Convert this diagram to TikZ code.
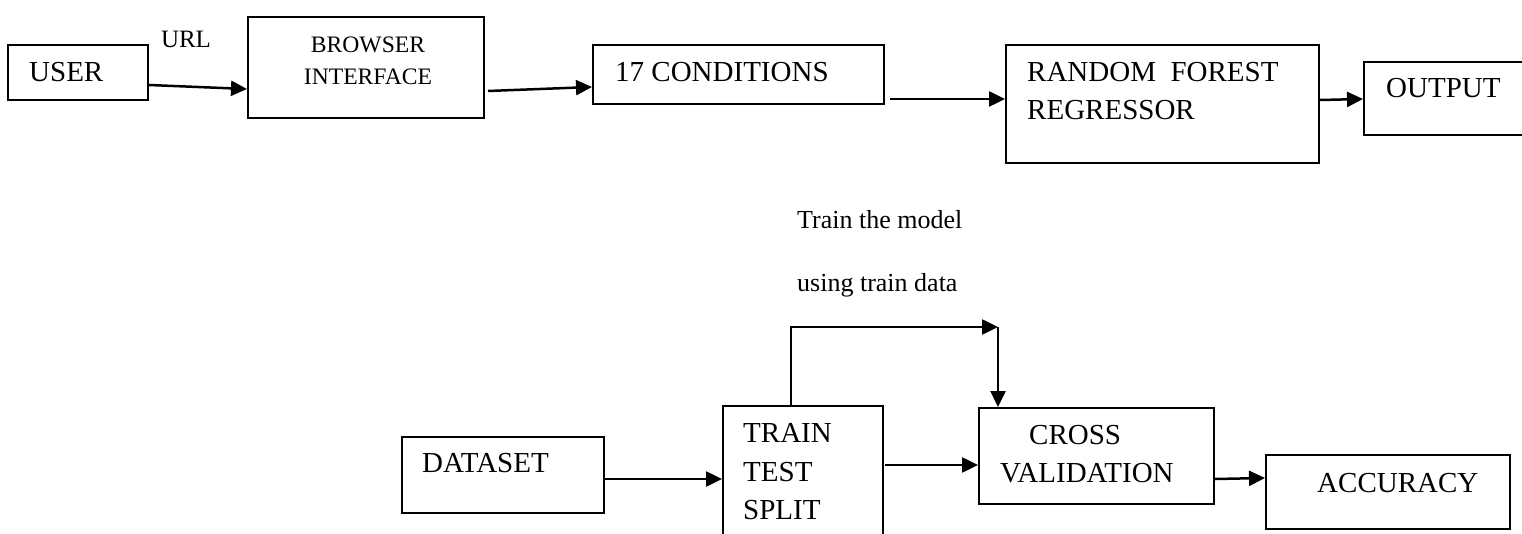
\documentclass[tikz,border=0pt]{standalone}
\usepackage{fontspec}
\setmainfont{Liberation Serif}
\usepackage{tikz}
\usetikzlibrary{arrows.meta,calc}

\begin{document}
\begin{tikzpicture}[x=1pt,y=-1pt]
  \tikzset{block/.style={draw,line width=2pt,inner sep=0pt,anchor=north west}}
  \tikzset{flow/.style={-{Triangle[length=16pt,width=15pt]},line width=2.5pt}}
  \tikzset{caption/.style={inner sep=0pt,anchor=west,align=left,font=\fontsize{29}{38}\selectfont}}
  \tikzset{note/.style={inner sep=0pt,anchor=base west,font=\fontsize{26}{32}\selectfont}}
  \useasboundingbox (0,0) rectangle (1522,534);

  % prediction path
  \node[block,minimum width=140pt,minimum height=55pt] (user) at (7,44) {};
  \node[block,minimum width=236pt,minimum height=101pt] (browser) at (247,16) {};
  \node[block,minimum width=291pt,minimum height=59pt] (cond) at (592,44) {};
  \node[block,minimum width=313pt,minimum height=118pt] (rf) at (1005,44) {};
  \node[block,minimum width=162pt,minimum height=73pt] (out) at (1363,61) {};

  \node[caption] (usertxt) at (29,72) {USER};
  \node[caption,anchor=center,align=center,font=\fontsize{23.6}{32}\selectfont] (browsertxt) at (368,61) {BROWSER\\INTERFACE};
  \node[caption] (condtxt) at (615,72) {17 CONDITIONS};
  \node[caption] (rftxt) at (1027,91) {RANDOM\ \ FOREST\\REGRESSOR};
  \node[caption] (outtxt) at (1386,88) {OUTPUT};
  \node[caption,anchor=center,font=\fontsize{25}{30}\selectfont] (url) at (186,39) {URL};

  \draw[flow] ($(user.north east)+(0,41)$) -- ($(browser.north west)+(0,73)$);
  \draw[flow] ($(browser.north east)+(3,75)$) -- ($(cond.north west)+(0,43)$);
  \draw[flow] ($(cond.north east)+(5,55)$) -- ($(rf.north west)+(0,55)$);
  \draw[flow] ($(rf.north east)+(0,56)$) -- ($(out.north west)+(0,38)$);

  % training path
  \node[block,minimum width=202pt,minimum height=76pt] (data) at (401,436) {};
  \node[block,minimum width=160pt,minimum height=140pt] (split) at (722,405) {};
  \node[block,minimum width=235pt,minimum height=96pt] (cross) at (978,407) {};
  \node[block,minimum width=244pt,minimum height=74pt] (acc) at (1265,454) {};

  \node[caption] (datatxt) at (422,463) {DATASET};
  \node[caption,font=\fontsize{29}{38.5}\selectfont] (splittxt) at (743,472) {TRAIN\\TEST\\SPLIT};
  \node[caption] (crosstxt) at (1000,454) {\hspace*{29pt}CROSS\\VALIDATION};
  \node[caption] (acctxt) at (1317,483) {ACCURACY};

  \node[note] (train1) at (797,229) {Train the model};
  \node[note] (train2) at (797,292) {using train data};

  \coordinate (bend) at (998,327);
  \draw[flow] ($(data.north east)+(0,43)$) -- ($(split.north west)+(0,74)$);
  \draw[flow] ($(split.north west)+(69,0)$) |- (bend);
  \draw[flow] (bend) -- (bend |- cross.north);
  \draw[flow] ($(split.north east)+(1,60)$) -- ($(cross.north west)+(0,58)$);
  \draw[flow] ($(cross.north east)+(0,72)$) -- ($(acc.north west)+(0,24)$);
\end{tikzpicture}
\end{document}
